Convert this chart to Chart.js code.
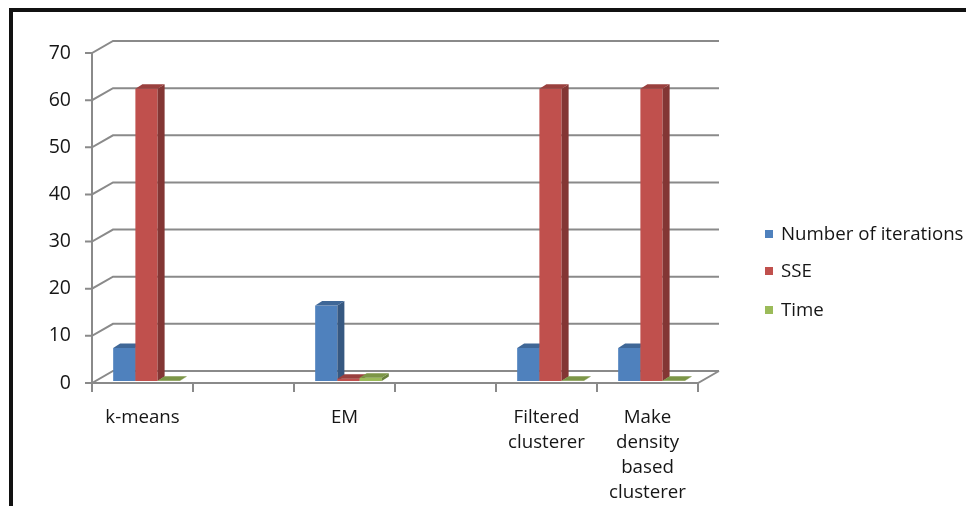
<!DOCTYPE html>
<html>
<head>
<meta charset="utf-8">
<script src="https://cdn.jsdelivr.net/npm/chart.js@4.4.0/dist/chart.umd.min.js"></script>
<style>
  html, body { margin: 0; padding: 0; background: #fff; }
  canvas { display: block; }
</style>
</head>
<body>
<canvas id="chart" width="966" height="506"></canvas>
<script>
// Clustering algorithm comparison
const categories = ['k-means', '', 'EM', '', ['Filtered', 'clusterer'], ['Make', 'density', 'based', 'clusterer']];
const seriesNames = ['Number of iterations', 'SSE', 'Time'];
const iterations = [7, null, 16, null, 7, 7];
const sse = [62, null, 0.5, null, 62, 62];
const time = [0.05, null, 0.7, null, 0.05, 0.05];
const yTicks = [0, 10, 20, 30, 40, 50, 60, 70];

const seriesColors = ['#4F81BD', '#C0504D', '#9BBB59'];
const FONT = "'Open Sans', 'Liberation Sans', sans-serif";
const TEXT = '#161616';
const GRID = '#8a8a8a';

// 3D look: wall depth and bar depth offsets
const WALL_DX = 21, WALL_DY = -12;
const BAR_SX = 4, BAR_SY = -2;      // bars sit a little behind the front edge
const BAR_DX = 7, BAR_DY = -4.5;    // bar thickness

function shade(hex, f) {
  const n = parseInt(hex.slice(1), 16);
  const r = Math.round(((n >> 16) & 255) * f);
  const g = Math.round(((n >> 8) & 255) * f);
  const b = Math.round((n & 255) * f);
  return 'rgb(' + r + ',' + g + ',' + b + ')';
}

function poly(ctx, pts, fill) {
  ctx.beginPath();
  ctx.moveTo(pts[0][0], pts[0][1]);
  for (let i = 1; i < pts.length; i++) ctx.lineTo(pts[i][0], pts[i][1]);
  ctx.closePath();
  ctx.fillStyle = fill;
  ctx.fill();
}

const box3d = {
  id: 'box3d',
  beforeDatasetsDraw(chart) {
    const ctx = chart.ctx;
    const { left, right } = chart.chartArea;
    const y = chart.scales.y, x = chart.scales.x;
    ctx.save();
    ctx.strokeStyle = GRID;
    ctx.lineWidth = 2;
    ctx.lineCap = 'butt';
    // back wall gridlines with their diagonals and tick marks
    yTicks.forEach(v => {
      const py = y.getPixelForValue(v);
      ctx.beginPath();
      ctx.moveTo(left - 7, py);
      ctx.lineTo(left, py);
      ctx.lineTo(left + WALL_DX, py + WALL_DY);
      ctx.lineTo(right + WALL_DX, py + WALL_DY);
      ctx.stroke();
    });
    // front vertical axis
    const y0 = y.getPixelForValue(0);
    ctx.beginPath();
    ctx.moveTo(left, y.getPixelForValue(70));
    ctx.lineTo(left, y0);
    ctx.stroke();
    // floor front edge and right diagonal
    ctx.beginPath();
    ctx.moveTo(left, y0);
    ctx.lineTo(right, y0);
    ctx.lineTo(right + WALL_DX, y0 + WALL_DY);
    ctx.stroke();
    // category tick marks
    const n = categories.length;
    const step = x.getPixelForValue(1) - x.getPixelForValue(0);
    for (let i = 0; i <= n; i++) {
      const px = i < n ? x.getPixelForValue(i) - step / 2 : right;
      ctx.beginPath();
      ctx.moveTo(px, y0);
      ctx.lineTo(px, y0 + 9);
      ctx.stroke();
    }
    ctx.restore();
  },
  beforeDatasetDraw() {
    return false;
  },
  afterDatasetsDraw(chart) {
    const ctx = chart.ctx;
    ctx.save();
    chart.data.datasets.forEach((ds, d) => {
      const meta = chart.getDatasetMeta(d);
      const col = seriesColors[d];
      meta.data.forEach((bar, i) => {
        if (ds.data[i] == null) return;
        const p = bar.getProps(['x', 'y', 'base', 'width'], true);
        const l = p.x - p.width / 2 + BAR_SX;
        const r = p.x + p.width / 2 + BAR_SX;
        const t = p.y + BAR_SY;
        const b = p.base + BAR_SY;
        ctx.fillStyle = col;
        ctx.fillRect(l, t, r - l, b - t);
        poly(ctx, [[r, t], [r + BAR_DX, t + BAR_DY], [r + BAR_DX, b + BAR_DY], [r, b]], shade(col, 0.68));
        poly(ctx, [[l, t], [l + BAR_DX, t + BAR_DY], [r + BAR_DX, t + BAR_DY], [r, t]], shade(col, 0.8));
      });
    });
    ctx.restore();
  },
  afterDraw(chart) {
    const ctx = chart.ctx;
    ctx.save();
    // legend
    const rows = [234, 271, 310];
    ctx.font = '18.7px ' + FONT;
    ctx.textBaseline = 'middle';
    ctx.textAlign = 'left';
    chart.data.datasets.forEach((ds, d) => {
      ctx.fillStyle = seriesColors[d];
      ctx.fillRect(765, rows[d] - 4, 8, 8);
      ctx.fillStyle = TEXT;
      ctx.fillText(ds.label, 781, rows[d] + 1);
    });
    // frame
    ctx.fillStyle = '#111';
    ctx.fillRect(9, 8, 4, 498);
    ctx.fillRect(9, 8, 957, 4);
    ctx.restore();
  }
};

new Chart(document.getElementById('chart'), {
  type: 'bar',
  data: {
    labels: categories,
    datasets: [
      { label: seriesNames[0], data: iterations, backgroundColor: seriesColors[0] },
      { label: seriesNames[1], data: sse, backgroundColor: seriesColors[1] },
      { label: seriesNames[2], data: time, backgroundColor: seriesColors[2] }
    ]
  },
  options: {
    responsive: false,
    animation: false,
    layout: { padding: { left: 12, top: 53, right: 268, bottom: 0 } },
    datasets: { bar: { categoryPercentage: 0.66, barPercentage: 1 } },
    plugins: { legend: { display: false }, tooltip: { enabled: false } },
    scales: {
      x: {
        grid: { display: false, drawTicks: false },
        border: { display: false },
        ticks: {
          autoSkip: false, maxRotation: 0, minRotation: 0, padding: 22,
          color: TEXT, font: { family: FONT, size: 18.7, lineHeight: 1.34 }
        },
        afterFit(s) { s.height = 123; }
      },
      y: {
        min: 0, max: 70,
        grid: { display: false, drawTicks: false },
        border: { display: false },
        ticks: { padding: 21, color: TEXT, font: { family: FONT, size: 19.5 } },
        afterBuildTicks(s) { s.ticks = yTicks.map(v => ({ value: v })); },
        afterFit(s) { s.width = 80; }
      }
    }
  },
  plugins: [box3d]
});
</script>
</body>
</html>
